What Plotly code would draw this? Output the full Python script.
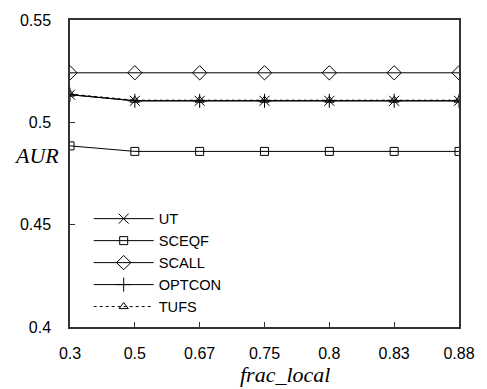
import plotly.graph_objects as go

# frac_local settings (evenly spaced categories)
frac_local = ["0.3", "0.5", "0.67", "0.75", "0.8", "0.83", "0.88"]

# AUR per method
ut     = [0.5135, 0.5105, 0.5105, 0.5105, 0.5105, 0.5105, 0.5105]
sceqf  = [0.4885, 0.4858, 0.4858, 0.4858, 0.4858, 0.4858, 0.4858]
scall  = [0.5242, 0.5242, 0.5242, 0.5242, 0.5242, 0.5242, 0.5242]
optcon = [0.5135, 0.5105, 0.5105, 0.5105, 0.5105, 0.5105, 0.5105]
tufs   = [0.5138, 0.5108, 0.5108, 0.5108, 0.5108, 0.5108, 0.5108]

y_ticks = [0.4, 0.45, 0.5, 0.55]
y_tick_text = ["0.4", "0.45", "0.5", "0.55"]

series = [
    ("UT", ut, "x-thin-open", "solid", 10),
    ("SCEQF", sceqf, "square-open", "solid", 8),
    ("SCALL", scall, "diamond-open", "solid", 11),
    ("OPTCON", optcon, "cross-thin-open", "solid", 10),
    ("TUFS", tufs, "triangle-up-open", "dot", 8),
]

fig = go.Figure()
for name, vals, sym, dash, size in series:
    fig.add_trace(go.Scatter(
        x=list(range(len(frac_local))), y=vals, name=name, mode="lines+markers",
        line=dict(color="black", width=1, dash=dash),
        marker=dict(symbol=sym, size=size, color="black",
                    line=dict(color="black", width=1)),
    ))

tick_font = dict(family="Liberation Sans, Arial, sans-serif", size=16, color="black")
legend_font = dict(family="Liberation Sans, Arial, sans-serif", size=14.6, color="black")
title_font = dict(family="Liberation Serif, Times New Roman, serif",
                  size=22, color="black", style="italic")

fig.update_layout(
    width=487, height=389,
    margin=dict(l=70, r=22, t=13, b=62),
    paper_bgcolor="white", plot_bgcolor="white",
    showlegend=True,
    legend=dict(x=0.048, y=0.405, xanchor="left", yanchor="top",
                font=legend_font, bgcolor="rgba(0,0,0,0)",
                itemwidth=60, tracegroupgap=0),
    xaxis=dict(
        range=[0, 6], tickmode="array",
        tickvals=list(range(len(frac_local))), ticktext=frac_local,
        ticks="inside", ticklen=5, tickcolor="#333", tickwidth=1,
        showline=True, linecolor="#333", linewidth=1.5, mirror=True,
        showgrid=False, zeroline=False, tickfont=tick_font,
        ticklabelstandoff=11,
    ),
    yaxis=dict(
        range=[0.4, 0.55], tickmode="array",
        tickvals=y_ticks, ticktext=y_tick_text,
        ticks="inside", ticklen=5, tickcolor="#333", tickwidth=1,
        showline=True, linecolor="#333", linewidth=1.5, mirror=True,
        showgrid=False, zeroline=False, tickfont=tick_font,
        ticklabelstandoff=14,
    ),
    annotations=[
        dict(text="AUR", xref="paper", yref="paper", x=-0.086, y=0.56,
             xanchor="center", yanchor="middle", showarrow=False,
             font=title_font),
        dict(text="frac_local", xref="paper", yref="paper", x=0.553, y=-0.156,
             xanchor="center", yanchor="middle", showarrow=False,
             font=title_font),
    ],
)

fig.write_html("out.html")
